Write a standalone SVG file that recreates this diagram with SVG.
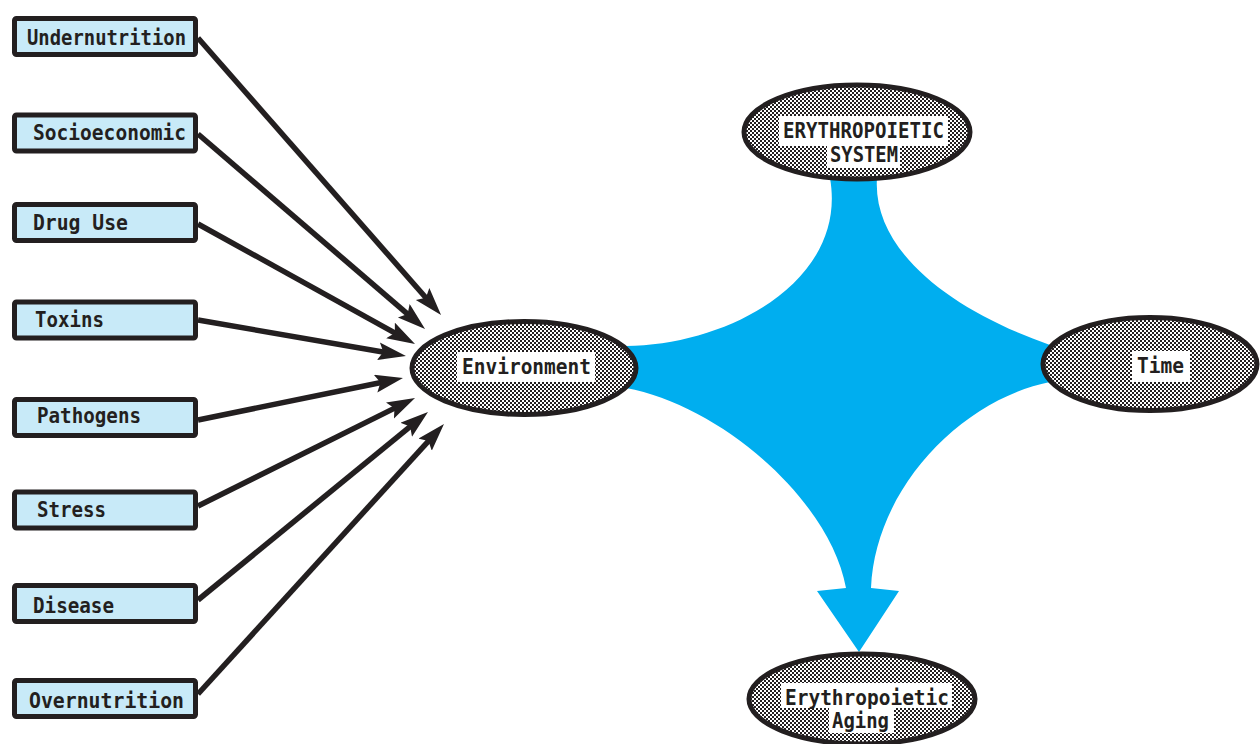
<svg xmlns="http://www.w3.org/2000/svg" width="1260" height="744" viewBox="0 0 1260 744">
<defs>
<pattern id="ht" width="4" height="4" patternUnits="userSpaceOnUse">
<rect width="4" height="4" fill="#ffffff"/>
<rect width="2" height="2" fill="#231f20"/>
<rect x="2" y="2" width="2" height="2" fill="#231f20"/>
</pattern>
<marker id="ah" markerUnits="userSpaceOnUse" markerWidth="30" markerHeight="20" refX="12" refY="9" orient="auto">
<path d="M0,0 L28,9 L0,18 L5,9 Z" fill="#231f20"/>
</marker>
<style>
.box{fill:#c8eaf8;stroke:#231f20;stroke-width:5;}
.ell{fill:url(#ht);stroke:#231f20;stroke-width:5;}
.lbl{fill:#ffffff;}
.t{font-family:"DejaVu Sans Mono","Liberation Mono",monospace;font-weight:bold;font-size:22px;fill:#231f20;}
.c{fill:none;stroke:#231f20;stroke-width:5.5;marker-end:url(#ah);}
</style>
</defs>
<rect width="1260" height="744" fill="#ffffff"/>

<g id="flow">
<path d="M 830,178 C 848,280 730,345 626,346 L 626,388 C 720,405 830,500 846,588 L 817,591 L 859,652 L 899,591 L 871,588 C 875,490 960,400 1050,382 L 1050,345 C 950,310 872,250 877,178 Z" fill="#00aeef"/>
</g>

<g id="connectors">
<line class="c" x1="198" y1="38" x2="430.5" y2="303"/>
<line class="c" x1="198" y1="134" x2="412.9" y2="318.6"/>
<line class="c" x1="198" y1="224" x2="401" y2="336.3"/>
<line class="c" x1="198" y1="320" x2="390.2" y2="353.3"/>
<line class="c" x1="198" y1="420" x2="387.3" y2="381.2"/>
<line class="c" x1="198" y1="506" x2="400.7" y2="405.1"/>
<line class="c" x1="198" y1="600" x2="415.6" y2="422.1"/>
<line class="c" x1="198" y1="694" x2="433.2" y2="435.8"/>
</g>

<g id="undernutrition">
<rect class="box" x="14.5" y="18.5" width="181" height="36" rx="2"/>
<text class="t" x="27" y="45" textLength="159" lengthAdjust="spacingAndGlyphs">Undernutrition</text>
</g>
<g id="socioeconomic">
<rect class="box" x="14.5" y="115" width="181" height="36" rx="2"/>
<text class="t" x="33" y="140" textLength="153" lengthAdjust="spacingAndGlyphs">Socioeconomic</text>
</g>
<g id="druguse">
<rect class="box" x="14.5" y="204.5" width="181" height="36" rx="2"/>
<text class="t" x="33" y="230" textLength="95" lengthAdjust="spacingAndGlyphs">Drug Use</text>
</g>
<g id="toxins">
<rect class="box" x="14.5" y="302" width="181" height="36" rx="2"/>
<text class="t" x="35" y="327" textLength="69" lengthAdjust="spacingAndGlyphs">Toxins</text>
</g>
<g id="pathogens">
<rect class="box" x="14.5" y="399.5" width="181" height="36" rx="2"/>
<text class="t" x="37" y="423" textLength="104" lengthAdjust="spacingAndGlyphs">Pathogens</text>
</g>
<g id="stress">
<rect class="box" x="14.5" y="492" width="181" height="36" rx="2"/>
<text class="t" x="37" y="517" textLength="69" lengthAdjust="spacingAndGlyphs">Stress</text>
</g>
<g id="disease">
<rect class="box" x="14.5" y="585.5" width="181" height="36" rx="2"/>
<text class="t" x="33" y="613" textLength="81" lengthAdjust="spacingAndGlyphs">Disease</text>
</g>
<g id="overnutrition">
<rect class="box" x="14.5" y="680.5" width="181" height="36" rx="2"/>
<text class="t" x="29" y="708" textLength="155" lengthAdjust="spacingAndGlyphs">Overnutrition</text>
</g>

<g id="environment">
<ellipse class="ell" cx="524" cy="368" rx="112" ry="46.5"/>
<rect class="lbl" x="457" y="352" width="138" height="30"/>
<text class="t" x="462" y="374" textLength="129" lengthAdjust="spacingAndGlyphs">Environment</text>
</g>
<g id="erythropoietic-system">
<ellipse class="ell" cx="857" cy="132" rx="113" ry="47"/>
<rect class="lbl" x="779" y="116" width="169" height="30"/>
<rect class="lbl" x="827" y="144" width="73" height="24"/>
<text class="t" x="783" y="138" textLength="161" lengthAdjust="spacingAndGlyphs">ERYTHROPOIETIC</text>
<text class="t" x="830" y="162" textLength="68" lengthAdjust="spacingAndGlyphs">SYSTEM</text>
</g>
<g id="time">
<ellipse class="ell" cx="1150" cy="364" rx="107" ry="46.5"/>
<rect class="lbl" x="1132" y="351" width="58" height="31"/>
<text class="t" x="1137" y="373" textLength="47" lengthAdjust="spacingAndGlyphs">Time</text>
</g>
<g id="erythropoietic-aging">
<ellipse class="ell" cx="862" cy="699" rx="113" ry="45"/>
<rect class="lbl" x="781" y="683" width="171" height="25"/>
<rect class="lbl" x="829" y="707" width="65" height="26"/>
<text class="t" x="785" y="705" textLength="164" lengthAdjust="spacingAndGlyphs">Erythropoietic</text>
<text class="t" x="832" y="728" textLength="57" lengthAdjust="spacingAndGlyphs">Aging</text>
</g>
</svg>
